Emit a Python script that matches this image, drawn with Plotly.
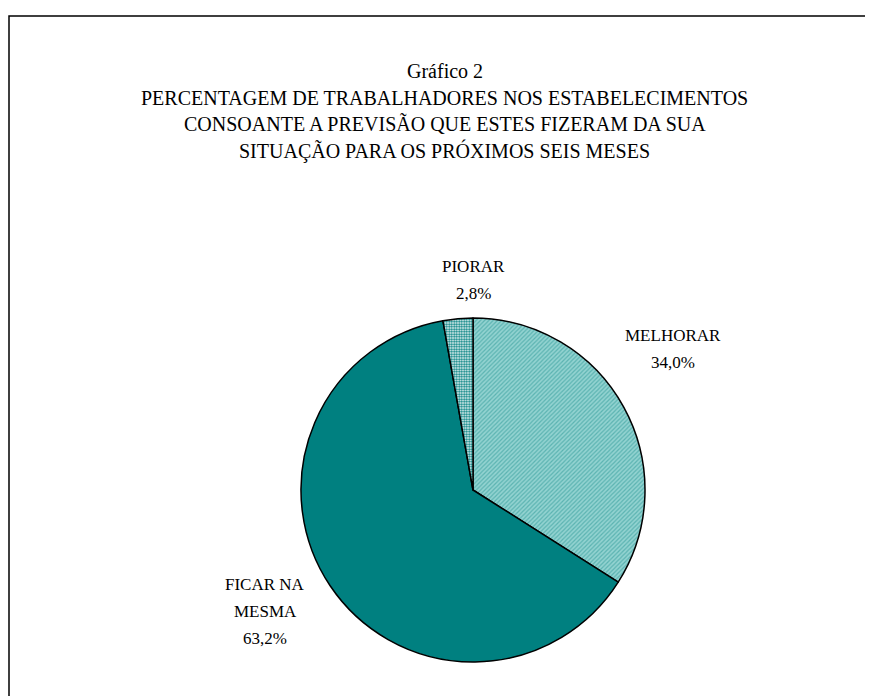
import plotly.graph_objects as go

# dados
categorias = ["MELHORAR", "FICAR NA<br>MESMA", "PIORAR"]
percentagens = [34.0, 63.2, 2.8]
cores = ["#8fd0ce", "#008080", "#ffffff"]

titulo = ["Gráfico 2",
          "PERCENTAGEM DE TRABALHADORES NOS ESTABELECIMENTOS",
          "CONSOANTE A PREVISÃO QUE ESTES FIZERAM DA SUA",
          "SITUAÇÃO PARA OS PRÓXIMOS SEIS MESES"]

W, H = 873, 696
fonte = "Liberation Serif, Times New Roman, serif"

# a página tem ~8px de margem, por isso as posições vêm descontadas
cx, cy, r = 465, 482, 172
# onde fica cada rótulo (centro x, y da primeira linha), em px
pos_rotulos = [(665, 327), (257, 576), (465, 258)]
entrelinha = 27

fig = go.Figure(go.Pie(
    labels=categorias,
    values=percentagens,
    sort=False,
    direction="clockwise",
    rotation=0,
    textinfo="none",
    hoverinfo="label+percent",
    marker=dict(
        colors=cores,
        line=dict(color="black", width=1.5),
        pattern=dict(
            shape=["/", "", "."],
            fgcolor=["#5bb3b1", "#008080", "#008080"],
            bgcolor=["#93d3d1", "#008080", "#ffffff"],
            size=[3, 4, 2.5],
            solidity=[0.4, 0.3, 0.55],
            fillmode="replace",
        ),
    ),
    showlegend=False,
    domain=dict(x=[(cx - r) / W, (cx + r) / W], y=[1 - (cy + r) / H, 1 - (cy - r) / H]),
))

anotacoes = []
for i, linha in enumerate(titulo):
    anotacoes.append(dict(text=linha, x=0.5, y=1 - (63 + i * 26.5) / H,
                          xref="paper", yref="paper", showarrow=False,
                          xanchor="center", yanchor="middle",
                          font=dict(family=fonte, size=20, color="black")))

for cat, v, (lx, ly) in zip(categorias, percentagens, pos_rotulos):
    linhas = cat.split("<br>") + [f"{v:.1f}%".replace(".", ",")]
    for j, t in enumerate(linhas):
        anotacoes.append(dict(text=t, x=lx / W, y=1 - (ly + j * entrelinha) / H,
                              xref="paper", yref="paper", showarrow=False,
                              xanchor="center", yanchor="middle",
                              font=dict(family=fonte, size=17, color="black")))

fig.update_layout(
    width=W, height=H,
    margin=dict(l=0, r=0, t=0, b=0),
    paper_bgcolor="white",
    annotations=anotacoes,
    shapes=[dict(type="rect", xref="paper", yref="paper",
                 x0=1 / W, x1=1.05, y0=-0.05, y1=1 - 8 / H,
                 line=dict(color="black", width=1.5))],
)

fig.write_html("out.html")
